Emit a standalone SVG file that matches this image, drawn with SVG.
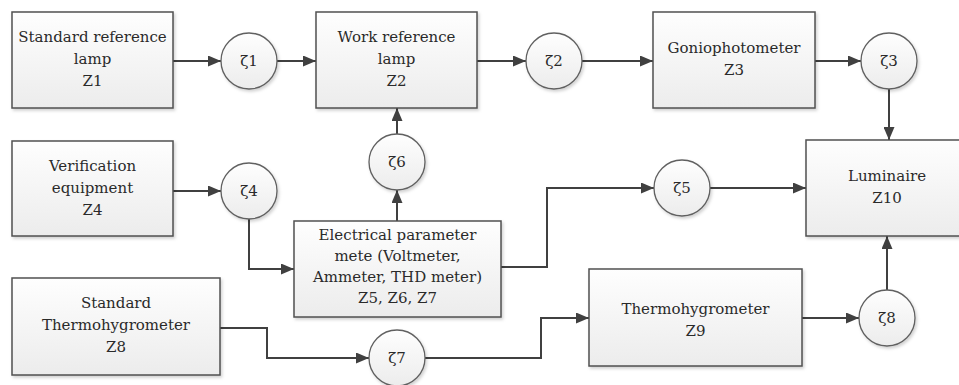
<svg xmlns="http://www.w3.org/2000/svg" width="959" height="385" viewBox="0 0 959 385">
<defs>
<linearGradient id="g" x1="0" y1="0" x2="0" y2="1">
<stop offset="0" stop-color="#fefefe"/>
<stop offset="1" stop-color="#ececec"/>
</linearGradient>
<filter id="sh" x="-10%" y="-10%" width="120%" height="125%">
<feDropShadow dx="1.5" dy="2" stdDeviation="1.5" flood-color="#000" flood-opacity="0.18"/>
</filter>
<marker id="a" viewBox="0 0 13 11" refX="13" refY="5.5" markerWidth="13" markerHeight="11" markerUnits="userSpaceOnUse" orient="auto">
<path d="M0,0 L13,5.5 L0,11 z" fill="#404040"/>
</marker>
</defs>
<style>
.box{fill:url(#g);stroke:#505050;stroke-width:1.5;filter:url(#sh)}
.c{fill:url(#g);stroke:#606060;stroke-width:1.3;filter:url(#sh)}
.t{font-family:"DejaVu Serif","Liberation Serif",serif;font-size:15px;fill:#2a2a2a;text-anchor:middle}
.l{fill:none;stroke:#404040;stroke-width:2}
.la{fill:none;stroke:#404040;stroke-width:2;marker-end:url(#a)}
</style>
<rect width="959" height="385" fill="#fff"/>
<g id="connectors">
<path class="la" d="M173,61 H221"/>
<path class="la" d="M277,61 H316"/>
<path class="la" d="M477,61 H526"/>
<path class="la" d="M582,61 H653"/>
<path class="la" d="M815,61 H861"/>
<path class="la" d="M889,89 V140"/>
<path class="la" d="M173,191 H221"/>
<path class="la" d="M249,219 V269 H294"/>
<path class="la" d="M397,221 V190"/>
<path class="la" d="M397,134 V108"/>
<path class="la" d="M501,267 H547 V188 H654"/>
<path class="la" d="M710,188 H806"/>
<path class="la" d="M220,328 H267 V358 H369"/>
<path class="la" d="M425,358 H541 V318 H589"/>
<path class="la" d="M802,318 H859"/>
<path class="la" d="M887,290 V236"/>
</g>
<g id="Z1"><rect class="box" x="12" y="12" width="161" height="96"/><text class="t" x="92.5" y="42">Standard reference</text><text class="t" x="92.5" y="64">lamp</text><text class="t" x="92.5" y="86">Z1</text></g>
<g id="zeta1"><circle class="c" cx="249" cy="61" r="28"/><text class="t" x="249" y="66">ζ1</text></g>
<g id="Z2"><rect class="box" x="316" y="12" width="161" height="96"/><text class="t" x="396.5" y="42">Work reference</text><text class="t" x="396.5" y="64">lamp</text><text class="t" x="396.5" y="86">Z2</text></g>
<g id="zeta2"><circle class="c" cx="554" cy="61" r="28"/><text class="t" x="554" y="66">ζ2</text></g>
<g id="Z3"><rect class="box" x="653" y="12" width="162" height="96"/><text class="t" x="734" y="53">Goniophotometer</text><text class="t" x="734" y="75">Z3</text></g>
<g id="zeta3"><circle class="c" cx="889" cy="61" r="28"/><text class="t" x="889" y="66">ζ3</text></g>
<g id="Z4"><rect class="box" x="12" y="141" width="161" height="95"/><text class="t" x="92.5" y="171">Verification</text><text class="t" x="92.5" y="193">equipment</text><text class="t" x="92.5" y="215">Z4</text></g>
<g id="zeta4"><circle class="c" cx="249" cy="191" r="28"/><text class="t" x="249" y="196">ζ4</text></g>
<g id="zeta6"><circle class="c" cx="397" cy="162" r="28"/><text class="t" x="397" y="167">ζ6</text></g>
<g id="Z5Z6Z7"><rect class="box" x="294" y="221" width="207" height="96"/><text class="t" x="397.5" y="240">Electrical parameter</text><text class="t" x="397.5" y="261">mete (Voltmeter,</text><text class="t" x="397.5" y="282">Ammeter, THD meter)</text><text class="t" x="397.5" y="303">Z5, Z6, Z7</text></g>
<g id="zeta5"><circle class="c" cx="682" cy="188" r="28"/><text class="t" x="682" y="193">ζ5</text></g>
<g id="Z10"><rect class="box" x="806" y="140" width="162" height="96"/><text class="t" x="887" y="181">Luminaire</text><text class="t" x="887" y="203">Z10</text></g>
<g id="Z8"><rect class="box" x="12" y="278" width="208" height="97"/><text class="t" x="116" y="308">Standard</text><text class="t" x="116" y="330">Thermohygrometer</text><text class="t" x="116" y="352">Z8</text></g>
<g id="zeta7"><circle class="c" cx="397" cy="358" r="28"/><text class="t" x="397" y="363">ζ7</text></g>
<g id="Z9"><rect class="box" x="589" y="269" width="213" height="97"/><text class="t" x="695.5" y="314">Thermohygrometer</text><text class="t" x="695.5" y="336">Z9</text></g>
<g id="zeta8"><circle class="c" cx="887" cy="318" r="28"/><text class="t" x="887" y="323">ζ8</text></g>
</svg>
